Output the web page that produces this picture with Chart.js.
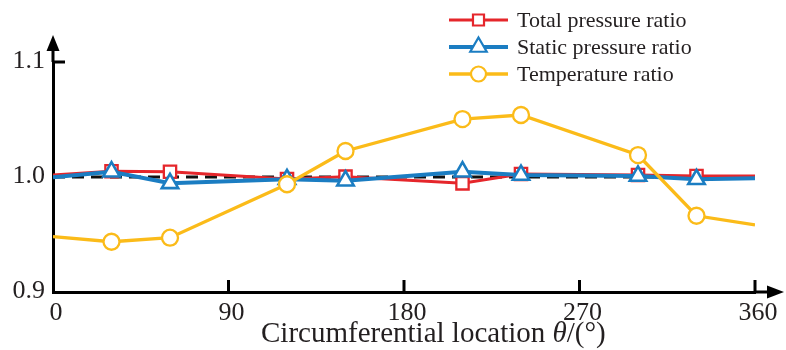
<!DOCTYPE html>
<html>
<head>
<meta charset="utf-8">
<script src="https://cdn.jsdelivr.net/npm/chart.js@4.4.0/dist/chart.umd.min.js"></script>
<style>
  html, body { margin: 0; padding: 0; background: #fff; }
  #wrap { width: 786px; height: 350px; position: relative; }
</style>
</head>
<body>
<div id="wrap"><canvas id="chart"></canvas></div>
<script>
// circumferential positions (deg)
const angles = [0, 30, 60, 120, 150, 210, 240, 300, 330, 360];
const totalPressure = [1.0017, 1.005, 1.0046, 0.9983, 1.0003, 0.9945, 1.0026, 1.0017, 1.0009, 1.0009];
const staticPressure = [0.9997, 1.0046, 0.9945, 0.998, 0.9968, 1.0046, 1.0017, 1.0009, 0.998, 0.9989];
const temperature = [0.9481, 0.9437, 0.9472, 0.9937, 1.0226, 1.0504, 1.0539, 1.0191, 0.9663, 0.9583];
const refAngles = [0, 360];
const refLine = [1.0, 1.0];
const seriesNames = ['Total pressure ratio', 'Static pressure ratio', 'Temperature ratio'];
const xTicks = [0, 90, 180, 270, 360];
const yTicks = [0.9, 1.0, 1.1];

const serif = "'Liberation Serif', 'Times New Roman', serif";
const ink = '#231f20';
const red = '#e5262b';
const blue = '#1b7dc2';
const yellow = '#fbbb19';

const toPoints = (xs, ys) => xs.map((x, i) => ({ x, y: ys[i] }));
// no marker on the two end points
const radii = (r) => angles.map((a, i) => (i === 0 || i === angles.length - 1) ? 0 : r);

function drawMarker(ctx, style, x, y, r) {
  ctx.beginPath();
  if (style === 'rect') {
    const s = Math.SQRT1_2 * r;
    ctx.rect(x - s, y - s, 2 * s, 2 * s);
  } else if (style === 'triangle') {
    for (let k = 0; k < 3; k++) {
      const a = k * 2 * Math.PI / 3;
      const px = x + Math.sin(a) * r, py = y - Math.cos(a) * r;
      k ? ctx.lineTo(px, py) : ctx.moveTo(px, py);
    }
    ctx.closePath();
  } else {
    ctx.arc(x, y, r, 0, Math.PI * 2);
  }
  ctx.fill();
  ctx.stroke();
}

const decor = {
  id: 'decor',
  afterDraw(chart) {
    const { ctx, chartArea: ca, scales: { x, y } } = chart;
    ctx.save();
    ctx.strokeStyle = '#000';
    ctx.fillStyle = '#000';
    ctx.lineWidth = 3;

    // axis extensions + arrows
    ctx.beginPath();
    ctx.moveTo(ca.left, ca.top);
    ctx.lineTo(ca.left, 48);
    ctx.moveTo(ca.right, ca.bottom);
    ctx.lineTo(770, ca.bottom);
    ctx.stroke();
    ctx.beginPath();
    ctx.moveTo(ca.left, 35);
    ctx.lineTo(ca.left - 6.5, 51);
    ctx.lineTo(ca.left + 6.5, 51);
    ctx.closePath();
    ctx.fill();
    ctx.beginPath();
    ctx.moveTo(784, ca.bottom);
    ctx.lineTo(767, ca.bottom - 6.5);
    ctx.lineTo(767, ca.bottom + 6.5);
    ctx.closePath();
    ctx.fill();

    // inward tick marks
    ctx.beginPath();
    xTicks.slice(1).forEach(v => {
      const px = x.getPixelForValue(v);
      ctx.moveTo(px, ca.bottom);
      ctx.lineTo(px, ca.bottom - 12);
    });
    const py = y.getPixelForValue(yTicks[yTicks.length - 1]);
    ctx.moveTo(ca.left, py);
    ctx.lineTo(ca.left + 12, py);
    ctx.stroke();

    // legend
    const legendMarkers = [{ style: 'rect', r: 7.8 }, { style: 'triangle', r: 9.5 }, { style: 'circle', r: 7.5 }];
    ctx.font = '22px ' + serif;
    ctx.textBaseline = 'middle';
    seriesNames.forEach((name, i) => {
      const ds = chart.data.datasets[i];
      const ly = 20 + i * 27;
      ctx.strokeStyle = ds.borderColor;
      ctx.lineWidth = ds.borderWidth;
      ctx.beginPath();
      ctx.moveTo(449, ly);
      ctx.lineTo(508, ly);
      ctx.stroke();
      ctx.fillStyle = '#fff';
      ctx.lineWidth = 2.2;
      drawMarker(ctx, legendMarkers[i].style, 478.5, ly, legendMarkers[i].r);
      ctx.fillStyle = ink;
      ctx.fillText(name, 517, ly + 1);
    });

    // x axis title with italic theta
    const parts = [['Circumferential location ', ''], ['\u03b8', 'italic '], ['/(\u00b0)', '']];
    let tx = 261;
    ctx.textBaseline = 'alphabetic';
    ctx.fillStyle = ink;
    parts.forEach(([t, st]) => {
      ctx.font = st + '29px ' + serif;
      ctx.fillText(t, tx, 342);
      tx += ctx.measureText(t).width;
    });
    ctx.restore();
  }
};

const datasets = [
  {
    label: seriesNames[0],
    data: toPoints(angles, totalPressure),
    borderColor: red, borderWidth: 3,
    pointStyle: 'rect', pointRadius: radii(8.7),
    pointBackgroundColor: '#fff', pointBorderColor: red, pointBorderWidth: 2.3,
    order: 2
  },
  {
    label: seriesNames[1],
    data: toPoints(angles, staticPressure),
    borderColor: blue, borderWidth: 4,
    pointStyle: 'triangle', pointRadius: radii(9.5),
    pointBackgroundColor: '#fff', pointBorderColor: blue, pointBorderWidth: 2.6,
    order: 1
  },
  {
    label: seriesNames[2],
    data: toPoints(angles, temperature),
    borderColor: yellow, borderWidth: 3.3,
    pointStyle: 'circle', pointRadius: radii(8),
    pointBackgroundColor: '#fff', pointBorderColor: yellow, pointBorderWidth: 2.3,
    order: 0
  },
  {
    label: 'reference',
    data: toPoints(refAngles, refLine),
    borderColor: '#111', borderWidth: 3, borderDash: [12, 7],
    pointRadius: 0,
    order: 3
  }
];

new Chart(document.getElementById('chart'), {
  type: 'line',
  data: { datasets },
  plugins: [decor],
  options: {
    responsive: true,
    maintainAspectRatio: false,
    animation: false,
    events: [],
    layout: { padding: { top: 62, right: 31, left: 0, bottom: 0 } },
    elements: { line: { tension: 0 } },
    plugins: { legend: { display: false }, tooltip: { enabled: false } },
    scales: {
      x: {
        type: 'linear', min: 0, max: 360,
        afterFit: s => { s.height = 58; },
        afterBuildTicks: s => { s.ticks = xTicks.map(v => ({ value: v })); },
        grid: { display: false, drawTicks: false },
        border: { display: true, color: '#000', width: 3 },
        ticks: { color: ink, font: { family: serif, size: 26 }, padding: 6, maxRotation: 0, labelOffset: 3 }
      },
      y: {
        min: 0.9, max: 1.1,
        afterFit: s => { s.width = 53; },
        afterBuildTicks: s => { s.ticks = yTicks.map(v => ({ value: v })); },
        grid: { display: false, drawTicks: false },
        border: { display: true, color: '#000', width: 3 },
        ticks: { color: ink, font: { family: serif, size: 26 }, padding: 8, labelOffset: -1, callback: v => v.toFixed(1) }
      }
    }
  }
});
</script>
</body>
</html>
